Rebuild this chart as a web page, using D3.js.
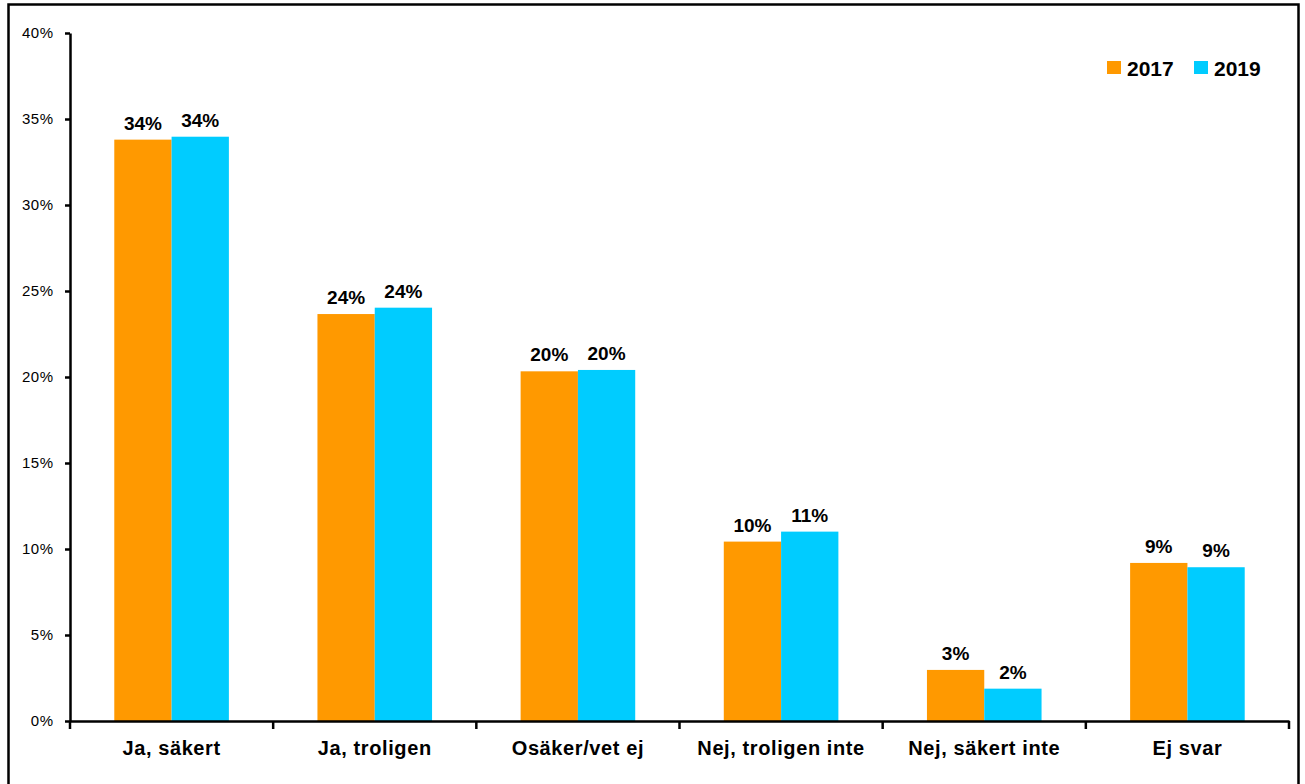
<!DOCTYPE html>
<html><head><meta charset="utf-8">
<script src="https://cdn.jsdelivr.net/npm/d3@7"></script>
<style>body{margin:0;background:#fff}svg{display:block;font-family:"Liberation Sans",Arial,sans-serif}</style>
</head><body><svg id="c" width="1305" height="784"></svg>
<script>
const categories = ["Ja, säkert","Ja, troligen","Osäker/vet ej","Nej, troligen inte","Nej, säkert inte","Ej svar"];
const series = ["2017","2019"];
const values2017 = [33.8, 23.66, 20.33, 10.43, 2.97, 9.19];
const values2019 = [33.97, 24.03, 20.41, 11.01, 1.88, 8.94];
const labels2017 = ["34%","24%","20%","10%","3%","9%"];
const labels2019 = ["34%","24%","20%","11%","2%","9%"];
const yTicks = [0,5,10,15,20,25,30,35,40];
const colors = ["#FF9900","#00CCFF"];

const svg = d3.select("#c");
// frame
svg.append("rect").attr("x",8.5).attr("y",4.5).attr("width",1290).attr("height",800)
  .attr("fill","none").attr("stroke","#000").attr("stroke-width",2.5);

const x0 = d3.scaleBand().domain(categories).range([70,1289]).paddingInner(0).paddingOuter(0);
const x1 = d3.scaleBand().domain(series).range([0,114.6]);
const y = d3.scaleLinear().domain([0,40]).range([721,33]);

const data = categories.map((c,i)=>({cat:c, vals:[
  {s:"2017", v:values2017[i], l:labels2017[i]},
  {s:"2019", v:values2019[i], l:labels2019[i]}]}));

const g = svg.append("g");
const grp = g.selectAll("g.grp").data(data).join("g")
  .attr("transform",d=>`translate(${x0(d.cat)+(x0.bandwidth()-114.6)/2},0)`);
grp.selectAll("rect").data(d=>d.vals).join("rect")
  .attr("x",d=>x1(d.s)).attr("width",x1.bandwidth())
  .attr("y",d=>y(d.v)).attr("height",d=>y(0)-y(d.v))
  .attr("fill",(d,i)=>colors[i]);
grp.selectAll("text").data(d=>d.vals).join("text")
  .attr("x",d=>x1(d.s)+x1.bandwidth()/2).attr("y",d=>y(d.v)-10)
  .attr("text-anchor","middle").attr("font-weight","bold").attr("font-size",19)
  .text(d=>d.l);

// y axis
const ya = svg.append("g").attr("transform","translate(70,0)")
  .call(d3.axisLeft(y).tickValues(yTicks).tickFormat(d=>d+"%").tickSize(5).tickSizeOuter(0).tickPadding(11.5));
ya.select(".domain").attr("stroke-width",2.5);
ya.selectAll(".tick line").attr("stroke-width",2.5);
ya.selectAll("text").attr("font-size",15).attr("letter-spacing",0.5).attr("font-family","Liberation Sans, Arial, sans-serif").attr("fill","#000");

// x axis
const xa = svg.append("g").attr("transform","translate(0,721)")
  .call(d3.axisBottom(x0).tickSize(0).tickPadding(20));
xa.select(".domain").attr("stroke-width",2.5);
xa.selectAll("text").attr("font-size",20).attr("letter-spacing",0.6).attr("font-weight","bold").attr("font-family","Liberation Sans, Arial, sans-serif").attr("fill","#000");
const bounds = d3.range(categories.length+1).map(i=> i<categories.length ? x0(categories[i]) : x0.range()[1]);
xa.selectAll("line.sep").data(bounds).join("line").attr("class","sep")
  .attr("x1",d=>d).attr("x2",d=>d).attr("y1",0).attr("y2",8)
  .attr("stroke","#000").attr("stroke-width",2.5);

// legend
const lg = svg.append("g");
const legX = [1107,1194];
series.forEach((s,i)=>{
  lg.append("rect").attr("x",legX[i]).attr("y",61).attr("width",14).attr("height",13).attr("fill",colors[i]);
  lg.append("text").attr("x",legX[i]+20).attr("y",76).attr("font-size",21).attr("font-weight","bold").text(s);
});
</script></body></html>
